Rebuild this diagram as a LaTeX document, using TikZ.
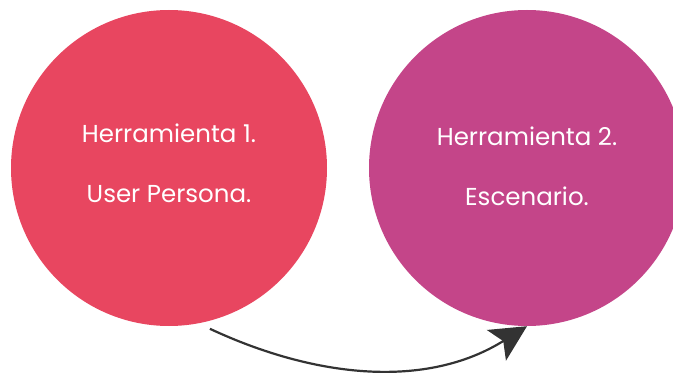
\documentclass[tikz,border=0pt]{standalone}
\usepackage{fontspec}
\setmainfont{Poppins}
\usetikzlibrary{arrows.meta, positioning}

\definecolor{toolred}{RGB}{232,70,96}
\definecolor{toolpink}{RGB}{196,69,137}
\definecolor{arrowgray}{RGB}{51,51,51}

\tikzset{
  toolcircle/.style={circle, minimum size=316pt, inner sep=0pt},
  tooltext/.style={text=white, align=center, font=\fontsize{24.5}{60}\selectfont},
  flowarrow/.style={-{Stealth[length=36pt, width=36pt, inset=8pt]}, line width=2.2pt, draw=arrowgray}
}

\begin{document}
\begin{tikzpicture}[x=1pt, y=1pt]
\useasboundingbox (0,0) rectangle (673,373);
% Nodes
\node[toolcircle, fill=toolred] (tool1) at (169,205) {};
\node[toolcircle, fill=toolpink] (tool2) at (527,205) {};
\node[tooltext] (text1) at ([yshift=5pt]tool1.center) {Herramienta 1.\\User Persona.};
\node[tooltext] (text2) at ([yshift=2pt]tool2.center) {Herramienta 2.\\Escenario.};

% Arrows
\draw[flowarrow] ([yshift=-8pt]tool1.-75) to[out=-25, in=-148, looseness=0.95] (tool2.south);
\end{tikzpicture}
\end{document}
